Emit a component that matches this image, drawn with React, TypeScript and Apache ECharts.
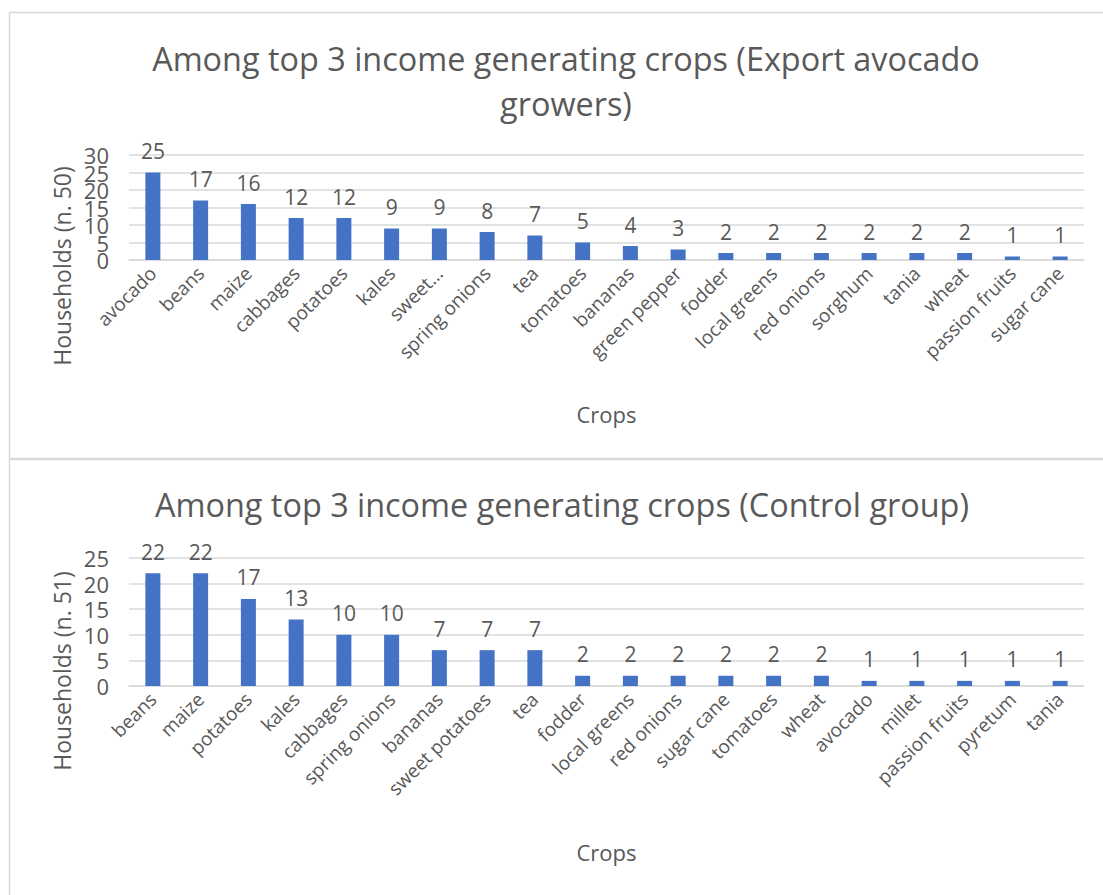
import React, { useEffect, useRef } from "react";
import * as echarts from "echarts";

const topCategories = ["avocado", "beans", "maize", "cabbages", "potatoes", "kales", "sweet…", "spring onions", "tea", "tomatoes", "bananas", "green pepper", "fodder", "local greens", "red onions", "sorghum", "tania", "wheat", "passion fruits", "sugar cane"];
const topValues = [25, 17, 16, 12, 12, 9, 9, 8, 7, 5, 4, 3, 2, 2, 2, 2, 2, 2, 1, 1];
const topTickLabelsA = [0, 10, 20, 30];
const topTickLabelsB = [5, 15, 25];

const bottomCategories = ["beans", "maize", "potatoes", "kales", "cabbages", "spring onions", "bananas", "sweet potatoes", "tea", "fodder", "local greens", "red onions", "sugar cane", "tomatoes", "wheat", "avocado", "millet", "passion fruits", "pyretum", "tania"];
const bottomValues = [22, 22, 17, 13, 10, 10, 7, 7, 7, 2, 2, 2, 2, 2, 2, 1, 1, 1, 1, 1];

const topTitle = "Among top 3 income generating crops (Export avocado\ngrowers)";
const bottomTitle = "Among top 3 income generating crops (Control group)";
const topYName = "Households (n. 50)";
const bottomYName = "Households (n. 51)";
const xName = "Crops";

const FONT = "'Open Sans'";
const TXT = "#595959";
const GRID = "#d9d9d9";
const BAR = "#4472C4";

export default function App() {
  const ref = useRef<HTMLDivElement>(null);
  useEffect(() => {
    document.body.style.margin = "0";
    const chart = echarts.init(ref.current!, null, { renderer: "svg" });
    const xAxisCommon = (cats: string[], gi: number) => ({
      type: "category",
      gridIndex: gi,
      data: cats,
      axisTick: { show: false },
      axisLine: { lineStyle: { color: GRID, width: 1.5 } },
      axisLabel: { interval: 0, rotate: 45, color: TXT, fontFamily: FONT, fontSize: 19, margin: 10 },
      name: xName,
      nameLocation: "middle",
      nameGap: gi === 0 ? 143 : 155,
      nameTextStyle: { color: TXT, fontFamily: FONT, fontSize: 22 },
    });
    const yAxisCommon = (max: number, gi: number, extra: any) => ({
      type: "value",
      gridIndex: gi,
      position: "left",
      min: 0,
      max,
      interval: 5,
      axisLine: { show: false },
      axisTick: { show: false },
      splitLine: { show: true, lineStyle: { color: GRID, width: 1.5 } },
      ...extra,
      axisLabel: { color: TXT, fontFamily: FONT, fontSize: 22, margin: 20, showMinLabel: true, showMaxLabel: true, hideOverlap: false, ...(extra.axisLabel || {}) },
    });
    const labelCommon = { show: true, position: "top", distance: 11, color: TXT, fontFamily: FONT, fontSize: 21 };
    const yNameStyle = { fill: TXT, fontFamily: FONT, fontSize: 23, align: "center", verticalAlign: "middle" };
    chart.setOption({
      animation: false,
      title: [
        { text: topTitle, left: 561, top: 30, textAlign: "center", textStyle: { color: TXT, fontFamily: FONT, fontSize: 32.4, fontWeight: "normal", lineHeight: 45 } },
        { text: bottomTitle, left: 557, top: 476, textAlign: "center", textStyle: { color: TXT, fontFamily: FONT, fontSize: 32.4, fontWeight: "normal", lineHeight: 45 } },
      ],
      graphic: [
        { type: "rect", shape: { x: 9.5, y: 12.5, width: 1110, height: 446 }, style: { fill: "none", stroke: GRID, lineWidth: 1.5 } },
        { type: "rect", shape: { x: 9.5, y: 459.5, width: 1110, height: 460 }, style: { fill: "none", stroke: GRID, lineWidth: 1.5 } },
        { type: "text", x: 62, y: 266, rotation: Math.PI / 2, style: { text: topYName, ...yNameStyle } },
        { type: "text", x: 62, y: 671, rotation: Math.PI / 2, style: { text: bottomYName, ...yNameStyle } },
      ],
      grid: [
        { left: 129, width: 955, top: 155, height: 105, outerBoundsMode: "none" },
        { left: 129, width: 955, top: 558, height: 128, outerBoundsMode: "none" },
      ],
      xAxis: [xAxisCommon(topCategories, 0), xAxisCommon(bottomCategories, 1)],
      yAxis: [
        yAxisCommon(30, 0, { axisLabel: { customValues: topTickLabelsA } }),
        yAxisCommon(25, 1, {}),
        yAxisCommon(30, 0, { splitLine: { show: false }, axisLabel: { customValues: topTickLabelsB } }),
      ],
      series: [
        { type: "bar", xAxisIndex: 0, yAxisIndex: 0, data: topValues, barWidth: 15, itemStyle: { color: BAR }, label: labelCommon },
        { type: "bar", xAxisIndex: 1, yAxisIndex: 1, data: bottomValues, barWidth: 15, itemStyle: { color: BAR }, label: labelCommon },
      ],
    });
    return () => chart.dispose();
  }, []);
  return <div ref={ref} style={{ width: 1103, height: 895 }} />;
}
